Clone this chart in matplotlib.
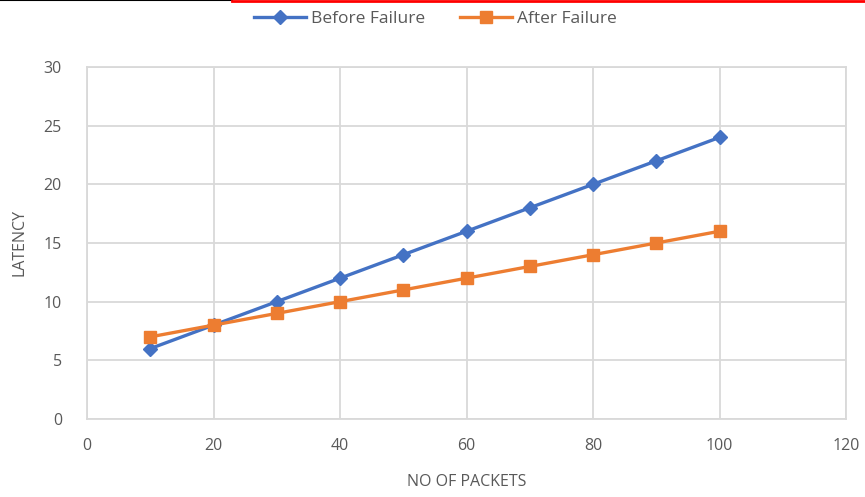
import matplotlib.pyplot as plt
from matplotlib.lines import Line2D

packets = [10, 20, 30, 40, 50, 60, 70, 80, 90, 100]
before_failure = [6, 8, 10, 12, 14, 16, 18, 20, 22, 24]
after_failure = [7, 8, 9, 10, 11, 12, 13, 14, 15, 16]

plt.rcParams['font.family'] = ['Open Sans', 'DejaVu Sans']
GRAY = '#595959'
GRID = '#D9D9D9'

fig = plt.figure(figsize=(8.65, 4.97), dpi=100)
ax = fig.add_axes([87 / 865, 1 - 419 / 497, (846 - 87) / 865, (419 - 67) / 497])

ax.plot(packets, before_failure, color='#4472C4', lw=2.4, marker='D', ms=7.5,
        label='Before Failure', zorder=3)
ax.plot(packets, after_failure, color='#ED7D31', lw=2.4, marker='s', ms=8.5,
        label='After Failure', zorder=3)

ax.set_xlim(0, 120)
ax.set_ylim(0, 30)
ax.set_xticks(range(0, 121, 20))
ax.set_yticks(range(0, 31, 5))
ax.grid(True, color=GRID, lw=1.3)
ax.set_axisbelow(True)
for s in ax.spines.values():
    s.set_color(GRID)
    s.set_linewidth(1.3)
ax.tick_params(length=0, labelsize=11.5, labelcolor=GRAY)
ax.tick_params(axis='y', pad=18)
ax.tick_params(axis='x', pad=14)

ax.set_xlabel('NO OF PACKETS', fontsize=11.5, color=GRAY, labelpad=14)
ax.set_ylabel('LATENCY', fontsize=11.5, color=GRAY, labelpad=12)

fig.legend(loc='upper center', bbox_to_anchor=(0.503, 1.01), ncol=2, frameon=False,
           fontsize=12.5, labelcolor=GRAY, handlelength=3, columnspacing=2.0,
           handletextpad=0.3)

# screenshot border lines along the top edge
fig.add_artist(Line2D([0, 232 / 865], [0.999, 0.999], color='black', lw=1.5,
                      transform=fig.transFigure))
fig.add_artist(Line2D([232 / 865, 1], [0.998, 0.998], color='red', lw=2,
                      transform=fig.transFigure))

fig.savefig('out.png', dpi=100)
